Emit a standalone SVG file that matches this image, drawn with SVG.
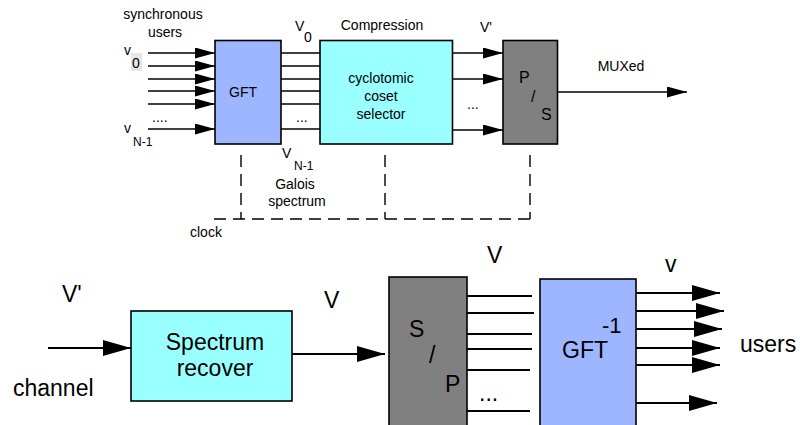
<svg xmlns="http://www.w3.org/2000/svg" width="800" height="425" viewBox="0 0 800 425">
<style>
text{font-family:"Liberation Sans",Arial,sans-serif;fill:#000}
.t{font-size:14px}
.s{font-size:12px}
.b{font-size:23px}
.box{stroke:#000;stroke-width:1.6}
.blue{fill:#9DB6FF}
.cyan{fill:#99FFFF}
.gray{fill:#808080}
.ln{stroke:#000;stroke-width:1.4;fill:none}
.lnb{stroke:#000;stroke-width:2;fill:none}
.dash{stroke:#000;stroke-width:1.4;fill:none;stroke-dasharray:12,7}
</style>
<defs>
<marker id="ah" markerUnits="userSpaceOnUse" markerWidth="20" markerHeight="11" refX="20" refY="5.5" orient="auto"><path d="M0,0 L20,5.5 L0,11 z" fill="#000"/></marker>
<marker id="ahb" markerUnits="userSpaceOnUse" markerWidth="28" markerHeight="16" refX="28" refY="8" orient="auto"><path d="M0,0 L28,8 L0,16 z" fill="#000"/></marker>
</defs>
<rect width="800" height="425" fill="#fff"/>

<g id="connectors">
<line class="ln" x1="148" y1="53" x2="215" y2="53" marker-end="url(#ah)"/>
<line class="ln" x1="148" y1="66" x2="215" y2="66" marker-end="url(#ah)"/>
<line class="ln" x1="148" y1="79" x2="215" y2="79" marker-end="url(#ah)"/>
<line class="ln" x1="148" y1="91" x2="215" y2="91" marker-end="url(#ah)"/>
<line class="ln" x1="148" y1="104" x2="215" y2="104" marker-end="url(#ah)"/>
<line class="ln" x1="148" y1="129" x2="215" y2="129" marker-end="url(#ah)"/>
<line class="ln" x1="280" y1="53" x2="320" y2="53"/>
<line class="ln" x1="280" y1="66" x2="320" y2="66"/>
<line class="ln" x1="280" y1="79" x2="320" y2="79"/>
<line class="ln" x1="280" y1="91" x2="320" y2="91"/>
<line class="ln" x1="280" y1="104" x2="320" y2="104"/>
<line class="ln" x1="280" y1="129" x2="320" y2="129"/>
<line class="ln" x1="452" y1="53" x2="503" y2="53" marker-end="url(#ah)"/>
<line class="ln" x1="452" y1="79" x2="503" y2="79" marker-end="url(#ah)"/>
<line class="ln" x1="452" y1="130" x2="503" y2="130" marker-end="url(#ah)"/>
<line class="ln" x1="557" y1="92" x2="687" y2="92" marker-end="url(#ah)"/>
<path class="dash" d="M241,155 V219"/>
<path class="dash" d="M385,155 V219"/>
<path class="dash" d="M530,155 V219"/>
<path class="dash" d="M214,219 H530"/>
<line class="lnb" x1="48" y1="348" x2="131" y2="348" marker-end="url(#ahb)"/>
<line class="lnb" x1="290" y1="354" x2="385" y2="354" marker-end="url(#ahb)"/>
<line class="lnb" x1="465" y1="296" x2="532" y2="296"/>
<line class="lnb" x1="465" y1="313" x2="534" y2="313"/>
<line class="lnb" x1="465" y1="334" x2="532" y2="334"/>
<line class="lnb" x1="465" y1="349" x2="532" y2="349"/>
<line class="lnb" x1="463" y1="370" x2="530" y2="370"/>
<line class="lnb" x1="463" y1="411" x2="530" y2="411"/>
<line class="lnb" x1="633" y1="293" x2="720" y2="293" marker-end="url(#ahb)"/>
<line class="lnb" x1="635" y1="311" x2="724" y2="311" marker-end="url(#ahb)"/>
<line class="lnb" x1="635" y1="329" x2="722" y2="329" marker-end="url(#ahb)"/>
<line class="lnb" x1="633" y1="348" x2="720" y2="348" marker-end="url(#ahb)"/>
<line class="lnb" x1="633" y1="365" x2="720" y2="365" marker-end="url(#ahb)"/>
<line class="lnb" x1="630" y1="403" x2="717" y2="403" marker-end="url(#ahb)"/>
</g>

<g id="gft">
<rect class="box blue" x="215" y="40.5" width="66" height="103.5"/>
<text class="t" x="243" y="97" text-anchor="middle">GFT</text>
</g>
<g id="selector">
<rect class="box cyan" x="320" y="40.5" width="132.5" height="103.5"/>
<text class="t" x="381" y="83" text-anchor="middle">cyclotomic</text>
<text class="t" x="381" y="101" text-anchor="middle">coset</text>
<text class="t" x="381" y="119" text-anchor="middle">selector</text>
</g>
<g id="ps">
<rect class="box gray" x="503" y="40.5" width="54.5" height="103.5"/>
<text x="519" y="83" style="font-size:16px">P</text>
<text x="531" y="102" style="font-size:16px">/</text>
<text x="541" y="120" style="font-size:16px">S</text>
</g>
<g id="spectrum-recover">
<rect class="box cyan" x="131" y="311" width="161" height="90"/>
<text class="b" x="215" y="350" text-anchor="middle">Spectrum</text>
<text class="b" x="215" y="376" text-anchor="middle">recover</text>
</g>
<g id="sp">
<rect class="box gray" x="389" y="277" width="78" height="160"/>
<text class="b" x="409" y="337">S</text>
<text class="b" x="429" y="363">/</text>
<text class="b" x="445" y="392">P</text>
</g>
<g id="gft-inv">
<rect class="box blue" x="540" y="279" width="96" height="160"/>
<text class="b" x="562" y="358">GFT</text>
<text x="602" y="333" style="font-size:22px">-1</text>
</g>

<g id="labels">
<text class="t" x="163" y="19" text-anchor="middle">synchronous</text>
<text class="t" x="165" y="37" text-anchor="middle">users</text>
<text class="t" x="124" y="55">v</text>
<rect x="131" y="53" width="11" height="18" fill="#e6e6e6"/>
<text class="t" x="132" y="68">0</text>
<text class="t" x="124" y="133">v</text>
<text class="s" x="133" y="146">N-1</text>
<text class="t" x="152" y="122">....</text>
<text class="t" x="296" y="122">...</text>
<text class="t" x="295" y="31">V</text>
<text class="t" x="304" y="42">0</text>
<text class="t" x="382" y="30" text-anchor="middle">Compression</text>
<text class="t" x="480" y="32">V'</text>
<text class="t" x="467" y="109">...</text>
<text class="t" x="621" y="71" text-anchor="middle">MUXed</text>
<text class="t" x="282" y="158">V</text>
<text class="s" x="294" y="170">N-1</text>
<text class="t" x="295" y="189" text-anchor="middle">Galois</text>
<text class="t" x="297" y="206" text-anchor="middle">spectrum</text>
<text class="t" x="190" y="237">clock</text>
<text class="b" x="62" y="302">V'</text>
<text class="b" x="13" y="396">channel</text>
<text class="b" x="324" y="308">V</text>
<text class="b" x="487" y="263">V</text>
<text class="b" x="665" y="272">v</text>
<text class="b" x="479" y="401">...</text>
<text class="b" x="740" y="352">users</text>
</g>
</svg>
